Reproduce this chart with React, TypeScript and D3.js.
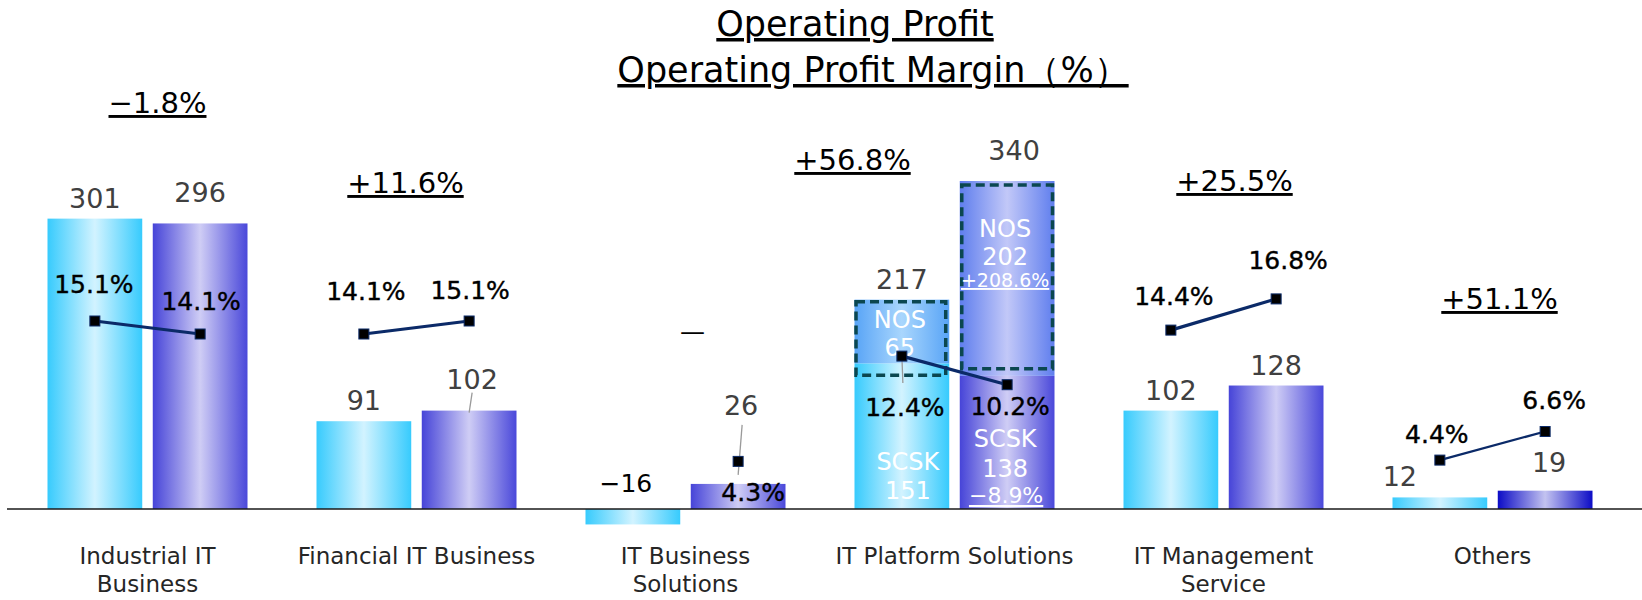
import React from "react";
import * as d3 from "d3";

const width = 1642;
const height = 600;

// ---- data ----
const categories = [
  "Industrial IT Business",
  "Financial IT Business",
  "IT Business Solutions",
  "IT Platform Solutions",
  "IT Management Service",
  "Others",
];
const categoryLines = [
  ["Industrial IT", "Business"],
  ["Financial IT Business"],
  ["IT Business", "Solutions"],
  ["IT Platform Solutions"],
  ["IT Management", "Service"],
  ["Others"],
];
const seriesKeys = ["prev", "curr"];
const prevProfit = [301, 91, -16, 217, 102, 12];
const currProfit = [296, 102, 26, 340, 128, 19];
const prevMargin: (number | null)[] = [15.1, 14.1, null, 12.4, 14.4, 4.4];
const currMargin: (number | null)[] = [14.1, 15.1, 4.3, 10.2, 16.8, 6.6];
const profitChange = ["−1.8%", "+11.6%", "", "+56.8%", "+25.5%", "+51.1%"];

// IT Platform Solutions breakdown (SCSK bottom, NOS top)
const platformIndex = 3;
const platformPrev = { SCSK: 151, NOS: 65 };
const platformCurr = { SCSK: 138, NOS: 202 };
const platformChange = { SCSK: "−8.9%", NOS: "+208.6%" };

// ---- layout tweaks (pixels) ----
const changeLabelPos = [
  [10, 113],
  [-11, 193],
  [0, 0],
  [-102, 170],
  [11, 191],
  [7, 309],
];
const valueNudge = {
  prev: [[0, 0], [0, 0], [-7, -6], [0, 0], [0, 0], [-40, 0]],
  curr: [[0, -10], [3, -11], [3, -58], [7, -10], [0, 0], [4, -8]],
};
const marginNudge = {
  prev: [[-1, -28], [2, -34], [0, 0], [3, 60], [3, -25], [-3, -17]],
  curr: [[1, -24], [1, -22], [15, 40], [3, 30], [12, -30], [9, -23]],
};

const font = "'DejaVu Sans', Verdana, sans-serif";

export default function App() {
  const x0 = d3.scaleBand<string>().domain(categories).range([13, 1627]);
  const groupW = 200;
  const x1 = d3.scaleBand<string>().domain(seriesKeys).range([0, groupW]).paddingInner(0.1);
  const bw = x1.bandwidth();
  const groupC = (i: number) => x0(categories[i])! + x0.bandwidth() / 2;
  const barX = (i: number, k: string) => groupC(i) - groupW / 2 + x1(k)!;
  const barC = (i: number, k: string) => barX(i, k) + bw / 2;

  const y = d3.scaleLinear().domain([0, 340]).range([509, 181]);
  const yM = d3.scaleLinear().domain([0, 20]).range([517.3, 257.3]);

  const values: Record<string, number[]> = { prev: prevProfit, curr: currProfit };
  const margins: Record<string, (number | null)[]> = { prev: prevMargin, curr: currMargin };
  const line = d3
    .line<{ x: number; m: number | null }>()
    .defined((d) => d.m != null)
    .x((d) => d.x)
    .y((d) => yM(d.m as number));

  const gradFor = (i: number, k: string) =>
    k === "prev" ? "url(#gPrev)" : i === 5 ? "url(#gCurrDeep)" : "url(#gCurr)";

  const p = platformIndex;
  const pPrevX = barX(p, "prev");
  const pCurrX = barX(p, "curr");

  return (
    <svg
      width={width}
      height={height}
      style={{ position: "absolute", left: 0, top: 0, background: "#fff" }}
      fontFamily={font}
    >
      <defs>
        <linearGradient id="gPrev" x1="0" x2="1" y1="0" y2="0">
          <stop offset="0%" stopColor="#37cbfd" />
          <stop offset="50%" stopColor="#d2f3ff" />
          <stop offset="100%" stopColor="#37cbfd" />
        </linearGradient>
        <linearGradient id="gCurr" x1="0" x2="1" y1="0" y2="0">
          <stop offset="0%" stopColor="#4644d8" />
          <stop offset="50%" stopColor="#cfcdf5" />
          <stop offset="100%" stopColor="#4a48da" />
        </linearGradient>
        <linearGradient id="gCurrDeep" x1="0" x2="1" y1="0" y2="0">
          <stop offset="0%" stopColor="#0c0cc6" />
          <stop offset="50%" stopColor="#c3c3f0" />
          <stop offset="100%" stopColor="#0c0cc6" />
        </linearGradient>
        <linearGradient id="gNosPrev" x1="0" x2="1" y1="0" y2="0">
          <stop offset="0%" stopColor="#58a4f6" />
          <stop offset="50%" stopColor="#a9d6fd" />
          <stop offset="100%" stopColor="#58a4f6" />
        </linearGradient>
        <linearGradient id="gNosCurr" x1="0" x2="1" y1="0" y2="0">
          <stop offset="0%" stopColor="#5f7eee" />
          <stop offset="50%" stopColor="#c2c8f8" />
          <stop offset="100%" stopColor="#5f7eee" />
        </linearGradient>
      </defs>

      {/* title */}
      <g textAnchor="middle" fill="#000" fontSize={35} style={{ textDecoration: "underline" }}>
        <text x={855} y={36}>Operating Profit</text>
        <text x={873} y={82}>Operating Profit Margin（%）</text>
      </g>

      {/* bars */}
      {categories.map((c, i) =>
        seriesKeys.map((k) => {
          const v = values[k][i];
          if (i === p) return null;
          return (
            <rect
              key={c + k}
              x={barX(i, k)}
              y={y(Math.max(v, 0))}
              width={bw}
              height={Math.abs(y(v) - y(0))}
              fill={gradFor(i, k)}
            />
          );
        })
      )}

      {/* IT Platform Solutions stacked bars */}
      <g>
        <rect x={pPrevX} y={y(platformPrev.SCSK)} width={bw} height={y(0) - y(platformPrev.SCSK)} fill="url(#gPrev)" />
        <rect x={pPrevX} y={y(prevProfit[p])} width={bw} height={y(platformPrev.SCSK) - y(prevProfit[p])} fill="url(#gNosPrev)" />
        <rect x={pCurrX} y={y(platformCurr.SCSK)} width={bw} height={y(0) - y(platformCurr.SCSK)} fill="url(#gCurr)" />
        <rect x={pCurrX} y={y(currProfit[p])} width={bw} height={y(platformCurr.SCSK) - y(currProfit[p])} fill="url(#gNosCurr)" />
        <rect
          x={pPrevX + 1.5}
          y={y(prevProfit[p]) + 2}
          width={bw - 5}
          height={y(platformPrev.SCSK) - y(prevProfit[p]) + 10}
          fill="none"
          stroke="#0b4750"
          strokeWidth={3.5}
          strokeDasharray="9 5"
        />
        <rect
          x={pCurrX + 2}
          y={y(currProfit[p]) + 4}
          width={bw - 4}
          height={y(platformCurr.SCSK) - y(currProfit[p]) - 11}
          fill="none"
          stroke="#0b4750"
          strokeWidth={3.5}
          strokeDasharray="9 5"
        />
        <g fill="#fff" textAnchor="middle" fontSize={24}>
          <text x={pPrevX + bw / 2 - 2} y={y(prevProfit[p]) + 28}>NOS</text>
          <text x={pPrevX + bw / 2 - 2} y={y(prevProfit[p]) + 56}>{platformPrev.NOS}</text>
          <text x={pPrevX + bw / 2 + 6} y={y(0) - 39}>SCSK</text>
          <text x={pPrevX + bw / 2 + 6} y={y(0) - 10}>{platformPrev.SCSK}</text>
          <text x={pCurrX + bw / 2 - 2} y={y(currProfit[p]) + 56}>NOS</text>
          <text x={pCurrX + bw / 2 - 2} y={y(currProfit[p]) + 84}>{platformCurr.NOS}</text>
          <text x={pCurrX + bw / 2 - 2} y={y(currProfit[p]) + 106} fontSize={19} style={{ textDecoration: "underline" }}>
            {platformChange.NOS}
          </text>
          <text x={pCurrX + bw / 2 - 2} y={y(0) - 62}>SCSK</text>
          <text x={pCurrX + bw / 2 - 2} y={y(0) - 32}>{platformCurr.SCSK}</text>
          <text x={pCurrX + bw / 2 - 1} y={y(0) - 6} fontSize={22} style={{ textDecoration: "underline" }}>
            {platformChange.SCSK}
          </text>
        </g>
      </g>

      {/* zero axis */}
      <line x1={7} x2={width} y1={y(0)} y2={y(0)} stroke="#1a1a1a" strokeWidth={1.5} />

      {/* leader lines */}
      <g stroke="#9a9a9a" strokeWidth={1.3}>
        <line
          x1={barC(1, "curr") + valueNudge.curr[1][0]}
          y1={y(currProfit[1]) + valueNudge.curr[1][1] - 7}
          x2={barC(1, "curr")}
          y2={y(currProfit[1]) + 2}
        />
        <line
          x1={barC(2, "curr") + valueNudge.curr[2][0] + 1}
          y1={y(currProfit[2]) + valueNudge.curr[2][1] - 1}
          x2={barC(2, "curr")}
          y2={y(currProfit[2]) - 9}
        />
        <line x1={barC(p, "prev")} y1={yM(prevMargin[p] as number)} x2={barC(p, "prev") + 1} y2={yM(prevMargin[p] as number) + 27} />
      </g>

      {/* margin lines */}
      {categories.map((c, i) => {
        const pts = seriesKeys.map((k) => ({ x: barC(i, k), m: margins[k][i] }));
        return (
          <g key={"m" + c}>
            <path d={line(pts) ?? ""} fill="none" stroke="#0b2a68" strokeWidth={i === 5 ? 2.2 : 3.2} />
            {pts
              .filter((d) => d.m != null)
              .map((d, j) => (
                <rect key={j} x={d.x - 5} y={yM(d.m as number) - 5} width={10} height={10} fill="#000" stroke="#0b2a68" strokeWidth={1} />
              ))}
          </g>
        );
      })}

      {/* value labels */}
      {categories.map((c, i) =>
        seriesKeys.map((k) => {
          const v = values[k][i];
          const [dx, dy] = (valueNudge as any)[k][i];
          const neg = v < 0;
          return (
            <text
              key={"v" + c + k}
              x={barC(i, k) + dx}
              y={y(Math.max(v, 0)) - 11 + dy}
              textAnchor="middle"
              fontSize={neg ? 25 : 27}
              fill={neg ? "#000" : "#404040"}
            >
              {neg ? "−" + Math.abs(v) : v}
            </text>
          );
        })
      )}

      {/* margin labels */}
      {categories.map((c, i) =>
        seriesKeys.map((k) => {
          const m = margins[k][i];
          const [dx, dy] = (marginNudge as any)[k][i];
          if (m == null) {
            return (
              <text key={"ml" + c + k} x={groupC(i) + 7} y={yM(14.1) + 6} textAnchor="middle" fontSize={25} fill="#000">
                —
              </text>
            );
          }
          return (
            <text
              key={"ml" + c + k}
              x={barC(i, k) + dx}
              y={yM(m) + dy}
              textAnchor="middle"
              fontSize={25}
              fill="#000"
              stroke="#000"
              strokeWidth={0.4}
            >
              {m.toFixed(1)}%
            </text>
          );
        })
      )}

      {/* change labels */}
      {profitChange.map((t, i) =>
        t ? (
          <text
            key={"c" + i}
            x={groupC(i) + changeLabelPos[i][0]}
            y={changeLabelPos[i][1]}
            textAnchor="middle"
            fontSize={29}
            fill="#000"
            style={{ textDecoration: "underline" }}
          >
            {t}
          </text>
        ) : null
      )}

      {/* category labels */}
      {categoryLines.map((lines, i) => (
        <text key={"cat" + i} x={groupC(i)} textAnchor="middle" fontSize={23} fill="#262626">
          {lines.map((l, j) => (
            <tspan key={j} x={groupC(i)} y={564 + j * 28}>
              {l}
            </tspan>
          ))}
        </text>
      ))}
    </svg>
  );
}
